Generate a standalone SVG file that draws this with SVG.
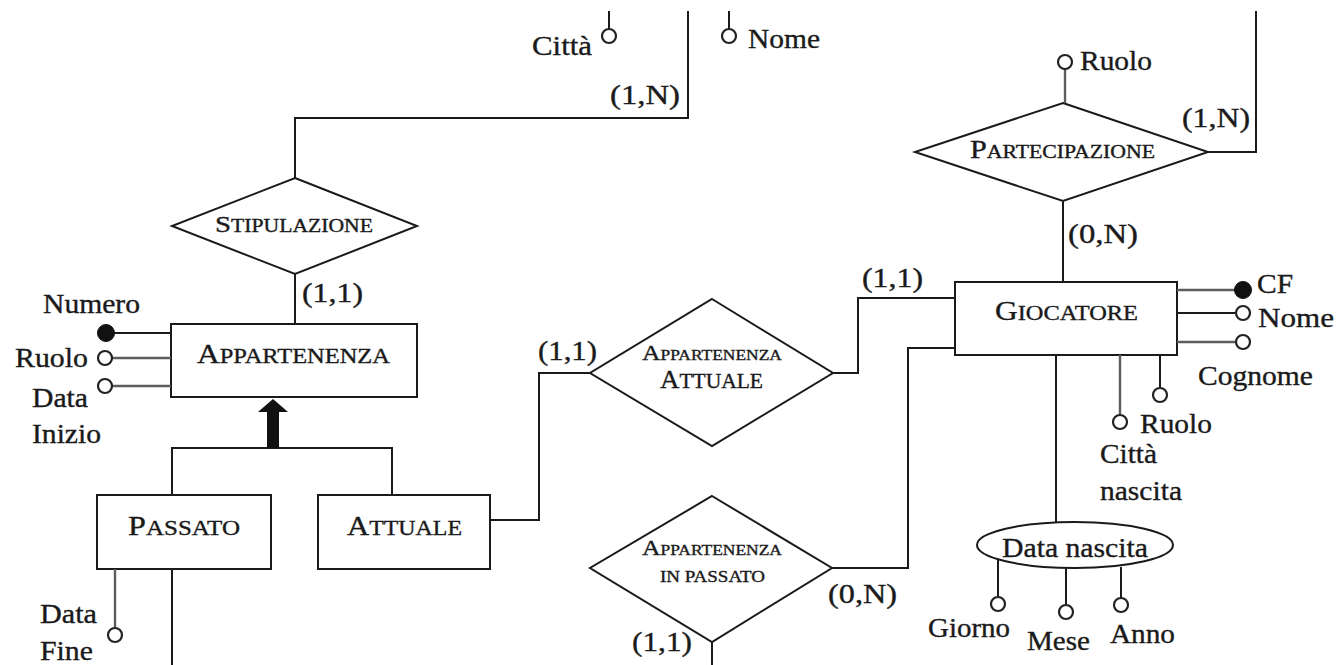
<svg xmlns="http://www.w3.org/2000/svg" width="1336" height="665" viewBox="0 0 1336 665">
  <style>
    .ln { fill: none; stroke: #1a1a1a; stroke-width: 2; }
    .soft { fill: none; stroke: #5c5c5c; stroke-width: 2.4; }
    .shape { fill: #ffffff; stroke: #1a1a1a; stroke-width: 2; }
    .oc { fill: #ffffff; stroke: #222222; stroke-width: 2.2; }
    .fc { fill: #111111; stroke: #111111; stroke-width: 1; }
    .t, .card, .sc { font-family: "Liberation Serif", "Times New Roman", serif; fill: #1a1a1a; stroke: #1a1a1a; stroke-width: 0.35; }
    .t, .card { font-size: 27px; }
  </style>
  <rect x="0" y="0" width="1336" height="665" fill="#ffffff"/>

  <!-- connectors -->
  <g id="connectors">
    <path class="ln" d="M688,11 V118 H295 V178"/>
    <path class="ln" d="M295,274 V324"/>
    <path class="ln" d="M172,495 V448 H392 V495"/>
    <path class="ln" d="M490,520 H539 V373 H590"/>
    <path class="ln" d="M833,373 H858 V298 H955"/>
    <path class="ln" d="M955,348 H908 V568 H832"/>
    <path class="ln" d="M712,642 V665"/>
    <path class="ln" d="M172,569 V665"/>
    <path class="ln" d="M1063,201 V282"/>
    <path class="ln" d="M1208,152 H1256 V11"/>
    <path class="ln" d="M1056,355 V522"/>
    <!-- generalization arrow -->
    <g id="isa-arrow">
      <rect x="267" y="410" width="12" height="38" fill="#111111"/>
      <polygon points="258,412 273,399 288,412" fill="#111111"/>
    </g>
    <text class="card" x="610" y="104" textLength="70" lengthAdjust="spacingAndGlyphs">(1,N)</text>
    <text class="card" x="302" y="302" textLength="61" lengthAdjust="spacingAndGlyphs">(1,1)</text>
    <text class="card" x="538" y="360" textLength="59" lengthAdjust="spacingAndGlyphs">(1,1)</text>
    <text class="card" x="862" y="287" textLength="61" lengthAdjust="spacingAndGlyphs">(1,1)</text>
    <text class="card" x="828" y="603" textLength="69" lengthAdjust="spacingAndGlyphs">(0,N)</text>
    <text class="card" x="632" y="651" textLength="60" lengthAdjust="spacingAndGlyphs">(1,1)</text>
    <text class="card" x="1182" y="127" textLength="68" lengthAdjust="spacingAndGlyphs">(1,N)</text>
    <text class="card" x="1068" y="243" textLength="70" lengthAdjust="spacingAndGlyphs">(0,N)</text>
  </g>

  <!-- attributes of the entity above (cut off at the top edge) -->
  <g id="attr-top-citta">
    <line class="ln" x1="609" y1="11" x2="609" y2="29"/>
    <circle class="oc" cx="609" cy="36" r="7"/>
    <text class="t" x="532" y="55" textLength="60" lengthAdjust="spacingAndGlyphs">Città</text>
  </g>
  <g id="attr-top-nome">
    <line class="ln" x1="729" y1="11" x2="729" y2="29"/>
    <circle class="oc" cx="729" cy="36" r="7"/>
    <text class="t" x="748" y="48" textLength="72" lengthAdjust="spacingAndGlyphs">Nome</text>
  </g>

  <!-- STIPULAZIONE -->
  <g id="rel-stipulazione">
    <polygon class="shape" points="295,178 417,226 295,274 172,226"/>
    <text class="sc" x="215" y="232" textLength="158" lengthAdjust="spacingAndGlyphs"><tspan font-size="24">S</tspan><tspan font-size="18">TIPULAZIONE</tspan></text>
  </g>

  <!-- APPARTENENZA -->
  <g id="ent-appartenenza">
    <rect class="shape" x="171" y="324" width="246" height="73"/>
    <text class="sc" x="197" y="363" textLength="193" lengthAdjust="spacingAndGlyphs"><tspan font-size="27">A</tspan><tspan font-size="21">PPARTENENZA</tspan></text>
  </g>
  <g id="attr-numero">
    <line class="ln" x1="114" y1="333" x2="171" y2="333"/>
    <circle class="fc" cx="106" cy="333" r="8.5"/>
    <text class="t" x="43" y="313" textLength="97" lengthAdjust="spacingAndGlyphs">Numero</text>
  </g>
  <g id="attr-ruolo-app">
    <line class="soft" x1="112" y1="358" x2="171" y2="358"/>
    <circle class="oc" cx="105" cy="358" r="7"/>
    <text class="t" x="15" y="367" textLength="73" lengthAdjust="spacingAndGlyphs">Ruolo</text>
  </g>
  <g id="attr-data-inizio">
    <line class="soft" x1="112" y1="386" x2="171" y2="386"/>
    <circle class="oc" cx="105" cy="386" r="7"/>
    <text class="t" x="32" y="407" textLength="56" lengthAdjust="spacingAndGlyphs">Data</text>
    <text class="t" x="32" y="443" textLength="69" lengthAdjust="spacingAndGlyphs">Inizio</text>
  </g>

  <!-- PASSATO -->
  <g id="ent-passato">
    <rect class="shape" x="97" y="495" width="174" height="74"/>
    <text class="sc" x="128" y="535" textLength="112" lengthAdjust="spacingAndGlyphs"><tspan font-size="27">P</tspan><tspan font-size="21">ASSATO</tspan></text>
  </g>
  <g id="attr-data-fine">
    <line class="soft" x1="115" y1="569" x2="115" y2="628"/>
    <circle class="oc" cx="115" cy="635" r="7"/>
    <text class="t" x="40" y="623" textLength="57" lengthAdjust="spacingAndGlyphs">Data</text>
    <text class="t" x="40" y="660" textLength="53" lengthAdjust="spacingAndGlyphs">Fine</text>
  </g>

  <!-- ATTUALE -->
  <g id="ent-attuale">
    <rect class="shape" x="318" y="495" width="172" height="74"/>
    <text class="sc" x="347" y="535" textLength="115" lengthAdjust="spacingAndGlyphs"><tspan font-size="27">A</tspan><tspan font-size="21">TTUALE</tspan></text>
  </g>

  <!-- APPARTENENZA ATTUALE -->
  <g id="rel-appartenenza-attuale">
    <polygon class="shape" points="712,299 833,373 712,446 590,373"/>
    <text class="sc" x="642" y="360" textLength="140" lengthAdjust="spacingAndGlyphs"><tspan font-size="22">A</tspan><tspan font-size="15">PPARTENENZA</tspan></text>
    <text class="sc" x="660" y="388" textLength="103" lengthAdjust="spacingAndGlyphs"><tspan font-size="25">A</tspan><tspan font-size="20">TTUALE</tspan></text>
  </g>

  <!-- APPARTENENZA IN PASSATO -->
  <g id="rel-appartenenza-passato">
    <polygon class="shape" points="712,496 832,568 712,642 590,568"/>
    <text class="sc" x="642" y="555" textLength="140" lengthAdjust="spacingAndGlyphs"><tspan font-size="22">A</tspan><tspan font-size="15">PPARTENENZA</tspan></text>
    <text class="sc" x="660" y="582" textLength="105" lengthAdjust="spacingAndGlyphs" font-size="16">IN  PASSATO</text>
  </g>

  <!-- PARTECIPAZIONE -->
  <g id="rel-partecipazione">
    <polygon class="shape" points="1063,103 1208,152 1063,201 915,152"/>
    <text class="sc" x="970" y="158" textLength="185" lengthAdjust="spacingAndGlyphs"><tspan font-size="25">P</tspan><tspan font-size="18">ARTECIPAZIONE</tspan></text>
  </g>
  <g id="attr-ruolo-part">
    <line class="soft" x1="1065" y1="69" x2="1065" y2="103"/>
    <circle class="oc" cx="1065" cy="62" r="7"/>
    <text class="t" x="1080" y="70" textLength="72" lengthAdjust="spacingAndGlyphs">Ruolo</text>
  </g>

  <!-- GIOCATORE -->
  <g id="ent-giocatore">
    <rect class="shape" x="955" y="282" width="222" height="73"/>
    <text class="sc" x="995" y="320" textLength="143" lengthAdjust="spacingAndGlyphs"><tspan font-size="27">G</tspan><tspan font-size="21">IOCATORE</tspan></text>
  </g>
  <g id="attr-cf">
    <line class="soft" x1="1177" y1="290" x2="1236" y2="290"/>
    <circle class="fc" cx="1243" cy="290" r="8.5"/>
    <text class="t" x="1257" y="293" textLength="36" lengthAdjust="spacingAndGlyphs">CF</text>
  </g>
  <g id="attr-nome">
    <line class="ln" x1="1177" y1="313" x2="1236" y2="313"/>
    <circle class="oc" cx="1243" cy="313" r="7"/>
    <text class="t" x="1258" y="327" textLength="76" lengthAdjust="spacingAndGlyphs">Nome</text>
  </g>
  <g id="attr-cognome">
    <line class="soft" x1="1177" y1="342" x2="1236" y2="342"/>
    <circle class="oc" cx="1243" cy="342" r="7"/>
    <text class="t" x="1198" y="385" textLength="115" lengthAdjust="spacingAndGlyphs">Cognome</text>
  </g>
  <g id="attr-ruolo-gioc">
    <line class="ln" x1="1160" y1="355" x2="1160" y2="388"/>
    <circle class="oc" cx="1160" cy="395" r="7"/>
    <text class="t" x="1140" y="433" textLength="72" lengthAdjust="spacingAndGlyphs">Ruolo</text>
  </g>
  <g id="attr-citta-nascita">
    <line class="soft" x1="1120" y1="355" x2="1120" y2="415"/>
    <circle class="oc" cx="1120" cy="422" r="7"/>
    <text class="t" x="1100" y="463" textLength="57" lengthAdjust="spacingAndGlyphs">Città</text>
    <text class="t" x="1100" y="500" textLength="82" lengthAdjust="spacingAndGlyphs">nascita</text>
  </g>

  <!-- composite attribute: Data nascita -->
  <g id="attr-data-nascita">
    <ellipse class="shape" cx="1075" cy="545" rx="98" ry="23"/>
    <text class="t" x="1002" y="557" textLength="146" lengthAdjust="spacingAndGlyphs">Data nascita</text>
    <line class="ln" x1="998" y1="560" x2="998" y2="597"/>
    <circle class="oc" cx="998" cy="604" r="7"/>
    <text class="t" x="928" y="637" textLength="82" lengthAdjust="spacingAndGlyphs">Giorno</text>
    <line class="ln" x1="1066" y1="568" x2="1066" y2="605"/>
    <circle class="oc" cx="1066" cy="612" r="7"/>
    <text class="t" x="1027" y="650" textLength="63" lengthAdjust="spacingAndGlyphs">Mese</text>
    <line class="ln" x1="1121" y1="567" x2="1121" y2="598"/>
    <circle class="oc" cx="1121" cy="605" r="7"/>
    <text class="t" x="1110" y="643" textLength="65" lengthAdjust="spacingAndGlyphs">Anno</text>
  </g>
</svg>
